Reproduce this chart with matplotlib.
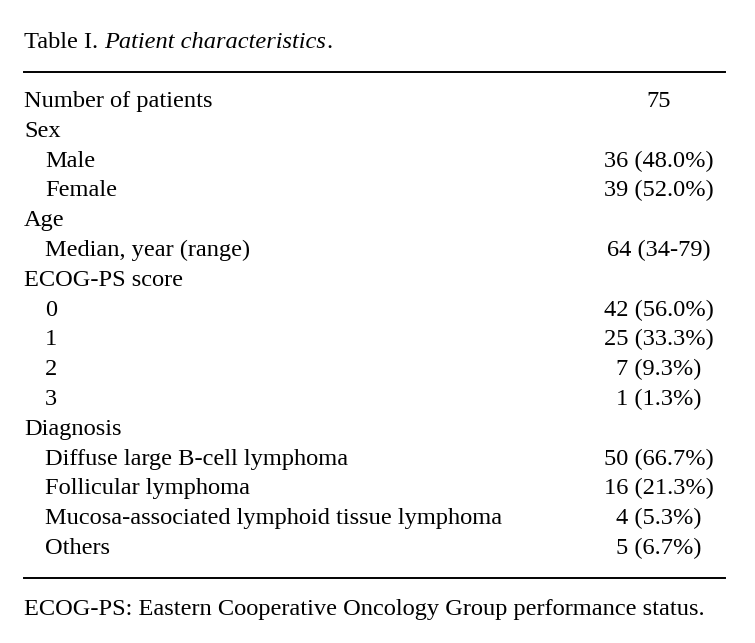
import matplotlib
matplotlib.use('Agg')
import matplotlib.pyplot as plt

plt.rcParams['font.family'] = ['Liberation Serif', 'DejaVu Serif']

title_prefix = 'Table I. '
title_italic = 'Patient characteristics'
title_suffix = '.'

row_labels = ['Number of patients', 'Sex', 'Male', 'Female', 'Age',
              'Median, year (range)', 'ECOG-PS score', '0', '1', '2', '3',
              'Diagnosis', 'Diffuse large B-cell lymphoma', 'Follicular lymphoma',
              'Mucosa-associated lymphoid tissue lymphoma', 'Others']
row_indent = [0, 0, 1, 1, 0, 1, 0, 1, 1, 1, 1, 0, 1, 1, 1, 1]
row_values = ['75', '', '36 (48.0%)', '39 (52.0%)', '', '64 (34-79)', '',
              '42 (56.0%)', '25 (33.3%)', '7 (9.3%)', '1 (1.3%)', '',
              '50 (66.7%)', '16 (21.3%)', '4 (5.3%)', '5 (6.7%)']
footnote = 'ECOG-PS: Eastern Cooperative Oncology Group performance status.'

W, H = 755, 643
fig = plt.figure(figsize=(W / 100, H / 100), dpi=100)
ax = fig.add_axes([0, 0, 1, 1])
ax.set_xlim(0, W)
ax.set_ylim(H, 0)
ax.axis('off')

fs = 17.6
x_left = 24
x_indent = 45
x_val = 659
y_first = 107   # baseline of first row
dy = 29.8

# title: regular + italic + regular pieces
t1 = ax.text(x_left, 48, title_prefix, fontsize=fs, va='baseline', ha='left')
t2 = ax.annotate(title_italic, xy=(1, 0), xycoords=t1, va='bottom', ha='left',
                 fontsize=fs, style='italic')
ax.annotate(title_suffix, xy=(1, 0), xycoords=t2, va='bottom', ha='left', fontsize=fs)

ax.plot([24, 725], [72, 72], color='black', lw=1.4)

for i, (lab, ind, val) in enumerate(zip(row_labels, row_indent, row_values)):
    y = y_first + i * dy
    ax.text(x_indent if ind else x_left, y, lab, fontsize=fs, va='baseline', ha='left')
    if val:
        ax.text(x_val, y, val, fontsize=fs, va='baseline', ha='center')

ax.plot([24, 725], [578, 578], color='black', lw=1.4)
ax.text(x_left, 615, footnote, fontsize=fs, va='baseline', ha='left')

fig.savefig('out.png', dpi=100)
